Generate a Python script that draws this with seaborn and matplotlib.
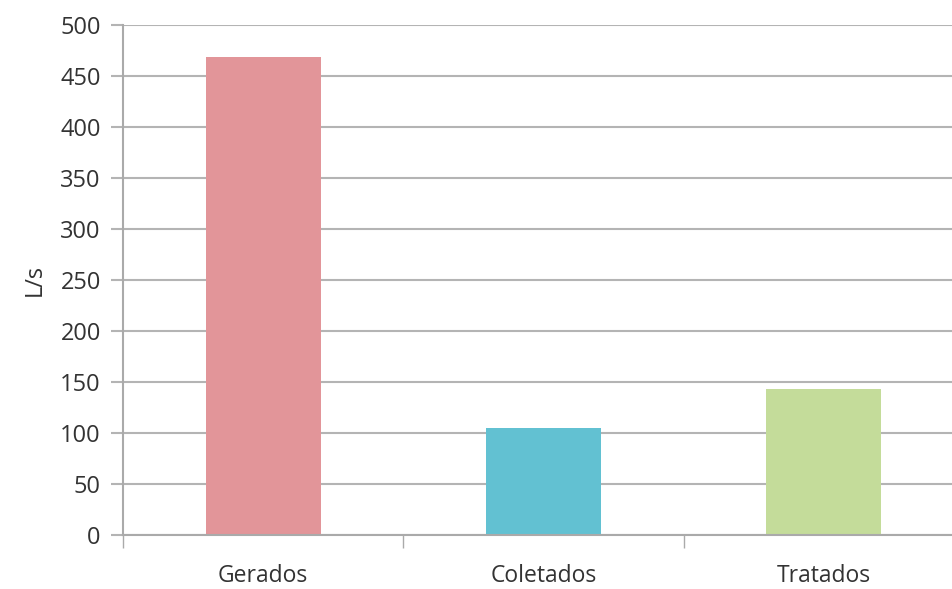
import pandas as pd
import matplotlib.pyplot as plt
import seaborn as sns
from matplotlib.ticker import FixedLocator

categorias = ['Gerados', 'Coletados', 'Tratados']
vazao = [469, 105, 143]
cores = ['#E29599', '#62C1D2', '#C4DC9A']
yticks = [0, 50, 100, 150, 200, 250, 300, 350, 400, 450, 500]

df = pd.DataFrame({'categoria': categorias, 'vazao': vazao})

sns.set_theme(style='white')
plt.rcParams['font.family'] = ['Open Sans', 'DejaVu Sans']

fig = plt.figure(figsize=(9.53, 5.89), dpi=100)
ax = fig.add_axes([123 / 953, 54 / 589, 841 / 953, 510 / 589])

sns.barplot(data=df, x='categoria', y='vazao', hue='categoria',
            palette=cores, width=0.41, saturation=1, legend=False,
            linewidth=0, ax=ax)

ax.set_xlim(-0.5, 2.5)
ax.set_ylim(0, 500)
ax.set_yticks(yticks)
ax.yaxis.grid(True, color='#b4b4b4', linewidth=1.5)
ax.set_axisbelow(True)

# marcas do eixo x entre categorias
ax.xaxis.set_minor_locator(FixedLocator([-0.5, 0.5, 1.5]))
ax.tick_params(axis='x', which='minor', bottom=True, length=9, width=1,
               color='#aaaaaa', direction='out')
ax.tick_params(axis='x', which='major', bottom=False, length=0, pad=21,
               labelsize=16.5, labelcolor='#333333')
ax.tick_params(axis='y', left=True, length=9, width=1.5, color='#b4b4b4',
               direction='out', labelsize=17, labelcolor='#333333', pad=7)

for s in ['top', 'right']:
    ax.spines[s].set_visible(False)
ax.spines['left'].set_color('#aaaaaa')
ax.spines['left'].set_linewidth(1.5)
ax.spines['bottom'].set_color('#aaaaaa')
ax.spines['bottom'].set_linewidth(1.5)

ax.set_xlabel('')
ax.set_ylabel('L/s', fontsize=17, color='#333333', labelpad=10)

fig.savefig('out.png', dpi=100)
